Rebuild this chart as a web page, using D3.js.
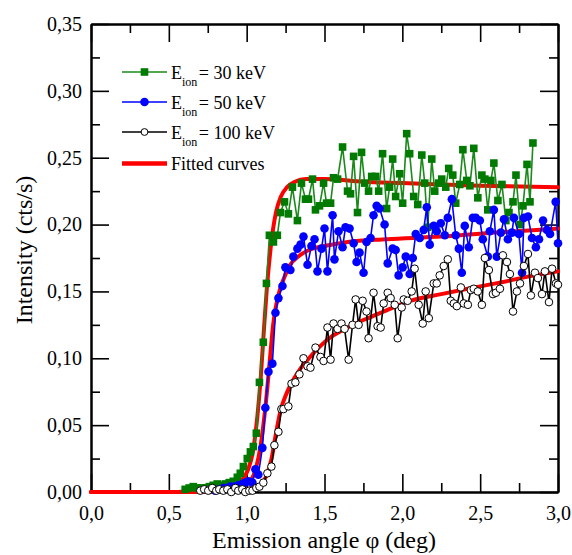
<!DOCTYPE html>
<html>
<head>
<meta charset="utf-8">
<script src="https://cdn.jsdelivr.net/npm/d3@7"></script>
<style>
  html, body { margin: 0; padding: 0; background: #fff; }
  svg { display: block; font-family: "Liberation Serif", "Times New Roman", serif; }
  svg text { font-family: "Liberation Serif", "Times New Roman", serif; }
</style>
</head>
<body>
<svg id="chart" width="572" height="555"></svg>
<script>
// Measured intensity vs emission angle, [angle (deg), intensity (cts/s)]
const ion30 = [
  [0.605,0.002],[0.631,0.003],[0.657,0.004],[0.682,0.003],[0.708,0.003],[0.734,0.003],
  [0.760,0.004],[0.785,0.005],[0.811,0.006],[0.837,0.005],[0.863,0.006],[0.888,0.007],
  [0.914,0.008],[0.940,0.011],[0.959,0.014],[0.979,0.019],[1.004,0.025],[1.024,0.030],
  [1.043,0.034],[1.062,0.044],[1.082,0.082],[1.107,0.112],[1.127,0.156],[1.146,0.192],
  [1.172,0.187],[1.197,0.192],[1.217,0.209],[1.243,0.217],[1.268,0.208],[1.294,0.228],
  [1.326,0.203],[1.352,0.231],[1.378,0.219],[1.397,0.219],[1.423,0.234],[1.442,0.211],
  [1.468,0.214],[1.494,0.231],[1.513,0.216],[1.539,0.216],[1.558,0.235],[1.584,0.234],
  [1.616,0.258],[1.648,0.225],[1.667,0.223],[1.687,0.251],[1.712,0.209],[1.738,0.254],
  [1.758,0.231],[1.783,0.225],[1.803,0.236],[1.828,0.236],[1.848,0.225],[1.873,0.253],
  [1.899,0.212],[1.918,0.228],[1.938,0.249],[1.957,0.221],[1.983,0.238],[2.002,0.216],
  [2.028,0.268],[2.047,0.253],[2.073,0.221],[2.099,0.215],[2.125,0.252],[2.144,0.231],
  [2.163,0.198],[2.189,0.249],[2.208,0.225],[2.234,0.231],[2.253,0.234],[2.279,0.228],
  [2.298,0.242],[2.324,0.237],[2.343,0.216],[2.369,0.230],[2.389,0.256],[2.414,0.233],
  [2.434,0.229],[2.459,0.257],[2.485,0.220],[2.511,0.237],[2.530,0.234],[2.549,0.211],
  [2.569,0.233],[2.588,0.246],[2.614,0.218],[2.640,0.230],[2.665,0.203],[2.685,0.209],
  [2.711,0.217],[2.730,0.237],[2.756,0.200],[2.775,0.214],[2.801,0.245],[2.820,0.217],
  [2.839,0.261]
];

const ion50 = [
  [0.798,0.001],[0.824,0.002],[0.850,0.003],[0.876,0.003],[0.895,0.004],[0.921,0.004],
  [0.946,0.005],[0.972,0.006],[0.991,0.007],[1.011,0.008],[1.037,0.007],[1.056,0.017],
  [1.075,0.013],[1.101,0.033],[1.120,0.063],[1.140,0.090],[1.165,0.096],[1.185,0.134],
  [1.204,0.145],[1.230,0.154],[1.249,0.168],[1.281,0.166],[1.300,0.176],[1.326,0.182],
  [1.346,0.185],[1.365,0.191],[1.391,0.170],[1.416,0.184],[1.436,0.189],[1.455,0.165],
  [1.481,0.182],[1.500,0.197],[1.519,0.165],[1.552,0.207],[1.564,0.174],[1.590,0.195],
  [1.616,0.183],[1.635,0.198],[1.661,0.197],[1.687,0.186],[1.706,0.172],[1.725,0.179],
  [1.751,0.164],[1.770,0.187],[1.796,0.190],[1.815,0.207],[1.835,0.214],[1.854,0.212],
  [1.886,0.200],[1.906,0.171],[1.938,0.182],[1.957,0.181],[1.976,0.162],[2.002,0.168],
  [2.022,0.176],[2.047,0.163],[2.067,0.175],[2.086,0.193],[2.112,0.190],[2.137,0.196],
  [2.157,0.213],[2.176,0.185],[2.202,0.199],[2.221,0.195],[2.247,0.201],[2.273,0.192],
  [2.292,0.205],[2.318,0.219],[2.343,0.192],[2.363,0.182],[2.382,0.164],[2.401,0.199],
  [2.427,0.183],[2.453,0.205],[2.472,0.205],[2.498,0.203],[2.517,0.189],[2.549,0.176],
  [2.562,0.195],[2.588,0.211],[2.607,0.176],[2.633,0.194],[2.653,0.204],[2.678,0.189],
  [2.704,0.194],[2.717,0.205],[2.749,0.193],[2.769,0.164],[2.781,0.205],[2.807,0.206],
  [2.833,0.190],[2.858,0.183],[2.878,0.189],[2.904,0.203],[2.929,0.196],[2.949,0.193],
  [2.985,0.217],[3.000,0.186]
];

const ion100 = [
  [0.702,0.001],[0.727,0.002],[0.753,0.001],[0.779,0.003],[0.805,0.001],[0.824,0.002],
  [0.850,0.001],[0.876,0.002],[0.901,0.000],[0.927,0.003],[0.946,0.001],[0.972,0.002],
  [0.991,0.000],[1.017,0.001],[1.037,0.001],[1.062,0.003],[1.082,0.004],[1.107,0.007],
  [1.133,0.014],[1.159,0.019],[1.178,0.035],[1.204,0.045],[1.223,0.062],[1.236,0.062],
  [1.268,0.064],[1.288,0.081],[1.313,0.082],[1.339,0.088],[1.365,0.100],[1.391,0.094],
  [1.410,0.093],[1.442,0.108],[1.474,0.101],[1.494,0.098],[1.519,0.123],[1.539,0.099],
  [1.558,0.126],[1.584,0.122],[1.609,0.126],[1.629,0.122],[1.655,0.099],[1.680,0.125],
  [1.700,0.144],[1.719,0.125],[1.745,0.143],[1.770,0.135],[1.783,0.115],[1.815,0.149],
  [1.841,0.124],[1.861,0.123],[1.880,0.141],[1.906,0.149],[1.925,0.145],[1.951,0.140],
  [1.970,0.115],[1.996,0.138],[2.009,0.144],[2.034,0.143],[2.060,0.150],[2.079,0.167],
  [2.105,0.140],[2.131,0.126],[2.150,0.150],[2.170,0.130],[2.202,0.156],[2.221,0.156],
  [2.240,0.162],[2.266,0.169],[2.292,0.174],[2.311,0.143],[2.331,0.141],[2.350,0.139],
  [2.376,0.153],[2.395,0.141],[2.421,0.140],[2.440,0.151],[2.459,0.152],[2.485,0.150],
  [2.511,0.140],[2.530,0.175],[2.556,0.166],[2.582,0.148],[2.601,0.149],[2.627,0.152],
  [2.646,0.177],[2.672,0.172],[2.691,0.163],[2.711,0.135],[2.736,0.150],[2.756,0.156],
  [2.781,0.169],[2.807,0.178],[2.826,0.147],[2.852,0.164],[2.871,0.160],[2.897,0.148],
  [2.916,0.165],[2.942,0.142],[2.962,0.167],[2.987,0.156],[3.000,0.155]
];

// Fitted curves, sampled along the angle axis
const fit30 = [
  [0.00,0.000],[0.55,0.000],[0.65,0.001],[0.75,0.002],[0.85,0.003],[0.92,0.005],
  [0.97,0.009],[1.01,0.017],[1.04,0.030],[1.07,0.058],[1.09,0.085],[1.11,0.120],
  [1.13,0.153],[1.15,0.178],[1.17,0.197],[1.19,0.210],[1.22,0.221],[1.26,0.228],
  [1.31,0.232],[1.38,0.234],[1.50,0.234],[1.75,0.232],[2.00,0.231],[2.50,0.229],
  [3.00,0.228]
];
const fit50 = [
  [0.00,0.000],[0.60,0.000],[0.75,0.001],[0.85,0.002],[0.95,0.004],[1.02,0.008],
  [1.06,0.018],[1.09,0.035],[1.12,0.063],[1.15,0.100],[1.17,0.125],[1.19,0.140],
  [1.21,0.150],[1.24,0.160],[1.28,0.170],[1.33,0.176],[1.40,0.181],[1.50,0.184],
  [1.65,0.187],[1.90,0.189],[2.25,0.191],[2.60,0.194],[3.00,0.197]
];
const fit100 = [
  [0.00,0.000],[0.70,0.000],[0.90,0.001],[1.00,0.002],[1.06,0.004],[1.10,0.007],
  [1.13,0.013],[1.16,0.025],[1.19,0.045],[1.22,0.062],[1.25,0.072],[1.30,0.084],
  [1.35,0.093],[1.40,0.100],[1.455,0.107],[1.53,0.115],[1.60,0.120],[1.70,0.126],
  [1.80,0.131],[1.92,0.137],[2.05,0.143],[2.25,0.148],[2.42,0.152],[2.60,0.156],
  [2.85,0.162],[3.00,0.165]
];

// Axis ticks
const xMajor = [0, 0.5, 1.0, 1.5, 2.0, 2.5, 3.0];
const xMinor = [0.25, 0.75, 1.25, 1.75, 2.25, 2.75];
const yMajor = [0, 0.05, 0.10, 0.15, 0.20, 0.25, 0.30, 0.35];
const yMinor = [0.025, 0.075, 0.125, 0.175, 0.225, 0.275, 0.325];

const legendItems = ["30", "50", "100"];

const FONT = "Liberation Serif, Times New Roman, serif";
const svg = d3.select("#chart");
const x = d3.scaleLinear().domain([0, 3]).range([91, 558]);
const y = d3.scaleLinear().domain([0, 0.35]).range([492, 24]);

const comma = f => v => d3.format(f)(v).replace(".", ",");

function styleAxis(g, labels) {
  g.attr("font-family", FONT);
  g.select(".domain").attr("stroke", "#000").attr("stroke-width", 2);
  g.selectAll(".tick line").attr("stroke", "#000").attr("stroke-width", 1.6);
  g.selectAll(".tick text").attr("fill", "#000").attr("font-size", 20).attr("font-family", FONT);
  if (!labels) g.selectAll(".tick text").remove();
}

// bottom
svg.append("g").attr("transform", "translate(0,492)")
  .call(d3.axisBottom(x).tickValues(xMajor).tickSize(-18).tickSizeOuter(0).tickPadding(14).tickFormat(comma(".1f")))
  .call(g => styleAxis(g, true));
svg.append("g").attr("transform", "translate(0,492)")
  .call(d3.axisBottom(x).tickValues(xMinor).tickSize(-9).tickSizeOuter(0).tickFormat(""))
  .call(g => styleAxis(g, false));
// top
svg.append("g").attr("transform", "translate(0,24)")
  .call(d3.axisTop(x).tickValues(xMajor).tickSize(-18).tickSizeOuter(0))
  .call(g => styleAxis(g, false));
svg.append("g").attr("transform", "translate(0,24)")
  .call(d3.axisTop(x).tickValues(xMinor).tickSize(-9).tickSizeOuter(0))
  .call(g => styleAxis(g, false));
// left
svg.append("g").attr("transform", "translate(91,0)")
  .call(d3.axisLeft(y).tickValues(yMajor).tickSize(-18).tickSizeOuter(0).tickPadding(9).tickFormat(comma(".2f")))
  .call(g => styleAxis(g, true));
svg.append("g").attr("transform", "translate(91,0)")
  .call(d3.axisLeft(y).tickValues(yMinor).tickSize(-9).tickSizeOuter(0))
  .call(g => styleAxis(g, false));
// right
svg.append("g").attr("transform", "translate(558,0)")
  .call(d3.axisRight(y).tickValues(yMajor).tickSize(-18).tickSizeOuter(0))
  .call(g => styleAxis(g, false));
svg.append("g").attr("transform", "translate(558,0)")
  .call(d3.axisRight(y).tickValues(yMinor).tickSize(-9).tickSizeOuter(0))
  .call(g => styleAxis(g, false));

// axis titles
svg.append("text").attr("x", 324).attr("y", 548).attr("text-anchor", "middle")
  .attr("font-family", FONT).attr("font-size", 24).text("Emission angle φ (deg)");
svg.append("text").attr("transform", "translate(32,250) rotate(-90)").attr("text-anchor", "middle")
  .attr("font-family", FONT).attr("font-size", 24).text("Intensity (cts/s)");

// fitted curves
const fitLine = d3.line().x(d => x(d[0])).y(d => y(d[1])).curve(d3.curveMonotoneX);
[fit30, fit50, fit100].forEach(f => {
  svg.append("path").datum(f).attr("d", fitLine)
    .attr("fill", "none").attr("stroke", "#ff0000").attr("stroke-width", 4)
    .attr("stroke-linejoin", "round").attr("stroke-linecap", "round");
});

const dataLine = d3.line().x(d => x(d[0])).y(d => y(d[1]));

// 30 keV: green squares
svg.append("path").datum(ion30).attr("d", dataLine)
  .attr("fill", "none").attr("stroke", "#1a8a1a").attr("stroke-width", 1.6);
svg.append("g").selectAll("rect").data(ion30).join("rect")
  .attr("x", d => x(d[0]) - 3.8).attr("y", d => y(d[1]) - 3.8)
  .attr("width", 7.6).attr("height", 7.6).attr("fill", "#007a00");

// 50 keV: blue filled circles
svg.append("path").datum(ion50).attr("d", dataLine)
  .attr("fill", "none").attr("stroke", "#0000ff").attr("stroke-width", 1.6);
svg.append("g").selectAll("circle").data(ion50).join("circle")
  .attr("cx", d => x(d[0])).attr("cy", d => y(d[1])).attr("r", 4.3).attr("fill", "#0000ff");

// 100 keV: black open circles
svg.append("path").datum(ion100).attr("d", dataLine)
  .attr("fill", "none").attr("stroke", "#000").attr("stroke-width", 1.6);
svg.append("g").selectAll("circle").data(ion100).join("circle")
  .attr("cx", d => x(d[0])).attr("cy", d => y(d[1])).attr("r", 3.8)
  .attr("fill", "#fff").attr("stroke", "#000").attr("stroke-width", 1);

// legend
const legend = svg.append("g").attr("font-family", FONT);
const rows = [72, 102, 132, 163.5];
const colors = ["#1a8a1a", "#0000ff", "#000"];
legendItems.forEach((e, i) => {
  const cy = rows[i];
  legend.append("line").attr("x1", 122).attr("x2", 167).attr("y1", cy).attr("y2", cy)
    .attr("stroke", colors[i]).attr("stroke-width", 1.6);
  if (i === 0) {
    legend.append("rect").attr("x", 144.5 - 3.8).attr("y", cy - 3.8).attr("width", 7.6).attr("height", 7.6).attr("fill", "#007a00");
  } else if (i === 1) {
    legend.append("circle").attr("cx", 144.5).attr("cy", cy).attr("r", 4.3).attr("fill", "#0000ff");
  } else {
    legend.append("circle").attr("cx", 144.5).attr("cy", cy).attr("r", 3.4).attr("fill", "#fff").attr("stroke", "#000");
  }
  const t = legend.append("text").attr("x", 171).attr("y", cy + 6.5).attr("font-size", 18);
  t.append("tspan").text("E");
  t.append("tspan").attr("font-size", 12).attr("dy", 7).text("ion");
  t.append("tspan").attr("dy", -7).attr("dx", 1.5).text("= " + e + " keV");
});
legend.append("line").attr("x1", 122).attr("x2", 167).attr("y1", rows[3]).attr("y2", rows[3])
  .attr("stroke", "#ff0000").attr("stroke-width", 4.5);
legend.append("text").attr("x", 171).attr("y", rows[3] + 6.5).attr("font-size", 18).text("Fitted curves");
</script>
</body>
</html>
